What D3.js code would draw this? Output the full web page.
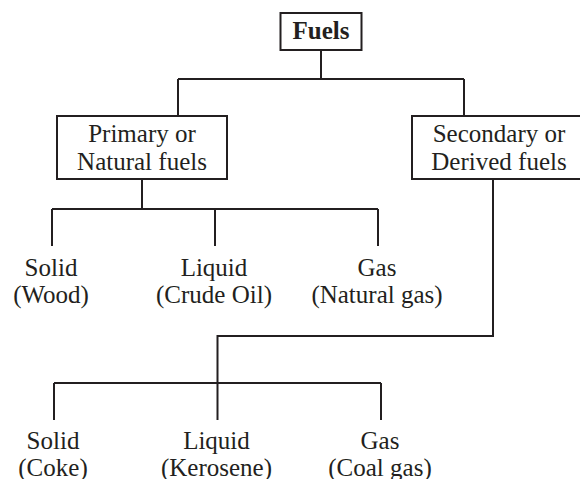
<!DOCTYPE html>
<html>
<head>
<meta charset="utf-8">
<script src="https://cdn.jsdelivr.net/npm/d3@7"></script>
<style>
  html, body { margin: 0; padding: 0; background: #fff; }
  svg { display: block; }
  text { font-family: "Liberation Serif", "Times New Roman", serif; font-size: 25px; fill: #231f20; }
</style>
</head>
<body>
<div id="viz"></div>
<script>
// chart content
var rootLabel = "Fuels";
var branchLines = [["Primary or", "Natural fuels"], ["Secondary or", "Derived fuels"]];
var states = ["Solid", "Liquid", "Gas"];
var primaryExamples = ["(Wood)", "(Crude Oil)", "(Natural gas)"];
var secondaryExamples = ["(Coke)", "(Kerosene)", "(Coal gas)"];

var width = 580, height = 479;
var ink = "#231f20";

var svg = d3.select("#viz").append("svg")
  .attr("width", width)
  .attr("height", height);

// scales for node placement
var rootX = 321;
var branchX = d3.scalePoint().domain([0, 1]).range([142, 499]);
var branchW = [170, 174];
var dropX = d3.scalePoint().domain([0, 1]).range([rootX - 143, rootX + 143]);
var leafX1 = d3.scalePoint().domain(states).range([52, 378]);
var leafX2 = d3.scalePoint().domain(states).range([54, 381]);

var y = {
  rootTop: 13, rootBottom: 50, rootBus: 79,
  boxTop: 116, boxBottom: 179,
  bus1: 209, leaf1: 246, label1: 276,
  elbow2: 336, bus2: 383, leaf2: 420, label2: 449
};

var line = d3.line();
var links = svg.append("g")
  .attr("fill", "none")
  .attr("stroke", ink)
  .attr("stroke-width", 2);

function addLink(pts) {
  links.append("path").attr("d", line(pts));
}

// root box
svg.append("rect")
  .attr("x", rootX - 40.5).attr("y", y.rootTop)
  .attr("width", 81).attr("height", y.rootBottom - y.rootTop)
  .attr("fill", "none").attr("stroke", ink).attr("stroke-width", 2);
svg.append("text")
  .attr("x", rootX).attr("y", 39)
  .attr("text-anchor", "middle")
  .style("font-weight", "bold")
  .text(rootLabel);

// root connectors
addLink([[rootX, y.rootBottom], [rootX, y.rootBus]]);
addLink([[dropX(0), y.rootBus], [dropX(1), y.rootBus]]);
[0, 1].forEach(function (i) {
  addLink([[dropX(i), y.rootBus], [dropX(i), y.boxTop]]);
});

// branch boxes
var boxes = svg.selectAll("g.branch")
  .data(branchLines)
  .enter().append("g")
  .attr("class", "branch");

boxes.append("rect")
  .attr("x", function (d, i) { return branchX(i) - branchW[i] / 2; })
  .attr("y", y.boxTop)
  .attr("width", function (d, i) { return branchW[i]; })
  .attr("height", y.boxBottom - y.boxTop)
  .attr("fill", "#fff").attr("stroke", ink).attr("stroke-width", 2);

boxes.each(function (d, i) {
  var g = d3.select(this);
  d.forEach(function (t, j) {
    g.append("text")
      .attr("x", branchX(i))
      .attr("y", 141.5 + j * 28)
      .attr("text-anchor", "middle")
      .text(t);
  });
});

// primary fuels
addLink([[branchX(0), y.boxBottom], [branchX(0), y.bus1]]);
addLink([[leafX1(states[0]), y.bus1], [leafX1(states[2]), y.bus1]]);
states.forEach(function (s) {
  addLink([[leafX1(s), y.bus1], [leafX1(s), y.leaf1]]);
});

// secondary fuels
var secDrop = 493;
addLink([[secDrop, y.boxBottom], [secDrop, y.elbow2], [leafX2("Liquid"), y.elbow2], [leafX2("Liquid"), y.bus2]]);
addLink([[leafX2(states[0]), y.bus2], [leafX2(states[2]), y.bus2]]);
states.forEach(function (s) {
  addLink([[leafX2(s), y.bus2], [leafX2(s), y.leaf2]]);
});

// leaf labels
function leafLabels(xs, examples, baseY) {
  var g = svg.append("g").attr("text-anchor", "middle");
  states.forEach(function (s, i) {
    g.append("text").attr("x", xs(s) - 1).attr("y", baseY).text(s);
    g.append("text").attr("x", xs(s) - 1).attr("y", baseY + 27).text(examples[i]);
  });
}
leafLabels(leafX1, primaryExamples, y.label1);
leafLabels(leafX2, secondaryExamples, y.label2);
</script>
</body>
</html>
